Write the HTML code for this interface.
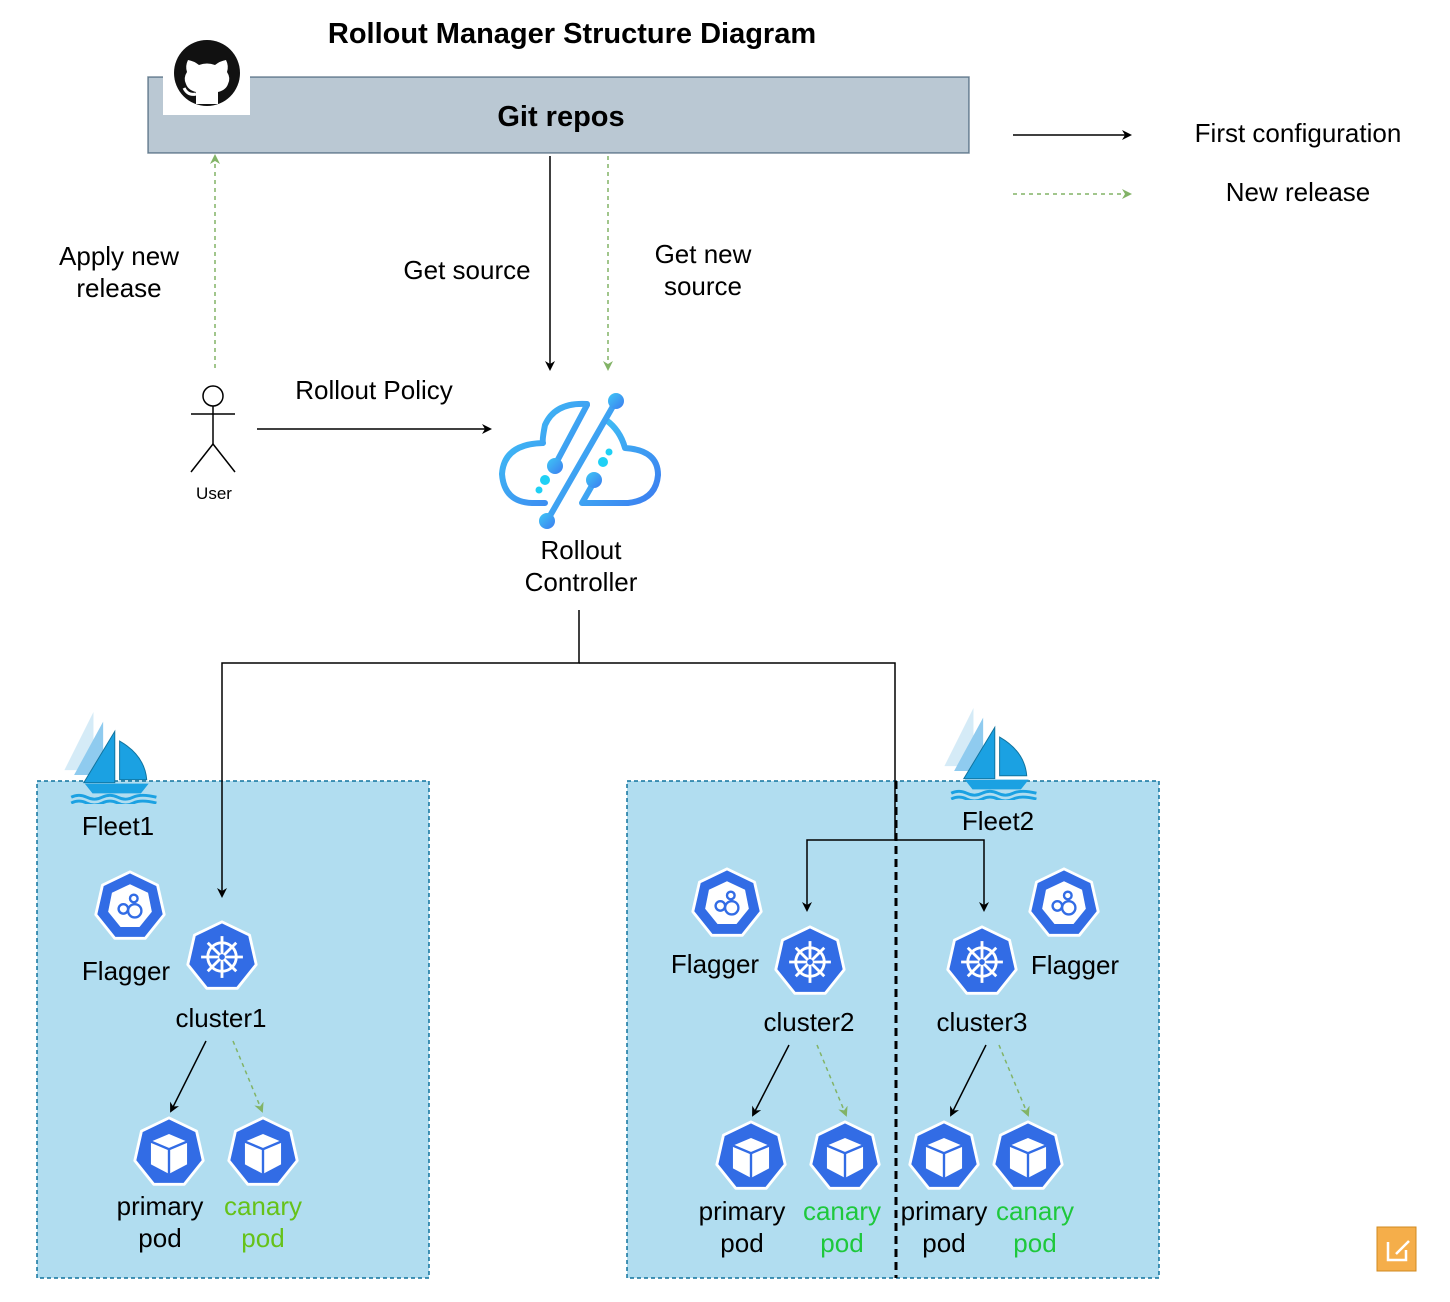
<!DOCTYPE html>
<html><head><meta charset="utf-8"><style>
html,body{margin:0;padding:0;background:#fff}
svg{display:block}
text{font-family:"Liberation Sans",sans-serif;fill:#000}
</style></head><body>
<svg width="1450" height="1302" viewBox="0 0 1450 1302" xmlns="http://www.w3.org/2000/svg">
<defs>
<marker id="ab" markerWidth="10" markerHeight="10" refX="8" refY="5" orient="auto" markerUnits="userSpaceOnUse"><path d="M0,0 L10,5 L0,10 L3,5z" fill="#000"/></marker>
<marker id="ag" markerWidth="10" markerHeight="10" refX="8" refY="5" orient="auto" markerUnits="userSpaceOnUse"><path d="M0,0 L10,5 L0,10 L3,5z" fill="#82b366"/></marker>
<symbol id="hep" viewBox="-40 -40 80 80"><polygon points="0,-37 29,-23 36,8 16,33 -16,33 -36,8 -29,-23" fill="#326ce5" stroke="#fff" stroke-width="3" stroke-linejoin="round"/></symbol>
<symbol id="helm" viewBox="-40 -40 80 80"><use href="#hep" x="-40" y="-40" width="80" height="80"/><g stroke="#fff" stroke-width="3" fill="none"><circle r="15"/><line x1="0" y1="-22" x2="0" y2="22"/><line x1="-22" y1="0" x2="22" y2="0"/><line x1="-15" y1="-15" x2="15" y2="15"/><line x1="15" y1="-15" x2="-15" y2="15"/></g><circle r="3" fill="#326ce5"/></symbol>
<symbol id="flag" viewBox="-40 -40 80 80"><use href="#hep" x="-40" y="-40" width="80" height="80"/><polygon points="0,-24 19,-15 23,5 10,21 -10,21 -23,5 -19,-15" fill="#fff"/><g fill="none" stroke="#326ce5" stroke-width="2.5"><circle cx="-7" cy="2" r="5"/><circle cx="5" cy="4" r="7"/><circle cx="4" cy="-9" r="4"/></g></symbol>
<symbol id="pod" viewBox="-40 -40 80 80"><use href="#hep" x="-40" y="-40" width="80" height="80"/><polygon points="0,-20 19,-12 19,12 0,22 -19,12 -19,-12" fill="#fff"/><polyline points="-19,-12 0,-4 19,-12" fill="none" stroke="#326ce5" stroke-width="2.5"/><line x1="0" y1="-4" x2="0" y2="22" stroke="#326ce5" stroke-width="2.5"/></symbol>
<symbol id="ship" viewBox="0 0 100 95"><polygon points="35,0 35,60 5,60" fill="#d5ebf7"/><polygon points="45,10 45,65 15,65" fill="#8fcbef"/><polygon points="57,20 57,73 25,73" fill="#1ba1e2" stroke="#10739e"/><path d="M62,30 Q88,45 90,70 L62,70z" fill="#1ba1e2" stroke="#10739e"/><path d="M26,74 L92,74 L84,84 L34,84z" fill="#1ba1e2"/><path d="M12,88 Q20,84 28,88 T44,88 T60,88 T76,88 T100,88" stroke="#1ba1e2" stroke-width="3" fill="none"/><path d="M12,94 Q20,90 28,94 T44,94 T60,94 T76,94 T100,94" stroke="#1ba1e2" stroke-width="3" fill="none"/></symbol>
<linearGradient id="cg" x1="0" y1="0" x2="1" y2="1"><stop offset="0" stop-color="#3fc8f5"/><stop offset="1" stop-color="#3c7cf0"/></linearGradient>
</defs>

<text x="572" y="43" font-size="29" font-weight="bold" text-anchor="middle">Rollout Manager Structure Diagram</text>
<rect x="148" y="77" width="821" height="76" fill="#bac8d3" stroke="#23445d" stroke-opacity="0.6" stroke-width="1.5"/>
<text x="561" y="126" font-size="29" font-weight="bold" text-anchor="middle">Git repos</text>
<rect x="163" y="38" width="87" height="77" fill="#fff"/>
<circle cx="207" cy="73" r="33" fill="#111"/>
<path d="M196,104 L196,92 Q188,90 186,84 Q183,78 187,72 Q185,66 188,60 Q194,61 199,65 Q207,62 215,65 Q220,61 226,60 Q229,66 227,72 Q231,78 228,84 Q226,90 218,92 L218,104z" fill="#fff"/>
<path d="M196,94 Q188,96 184,88" stroke="#fff" stroke-width="3" fill="none"/>

<line x1="1013" y1="135" x2="1130" y2="135" stroke="#000" stroke-width="1.5" marker-end="url(#ab)"/>
<line x1="1013" y1="194" x2="1130" y2="194" stroke="#82b366" stroke-width="1.5" stroke-dasharray="4,4" marker-end="url(#ag)"/>
<text x="1298" y="142" font-size="26" text-anchor="middle">First configuration</text>
<text x="1298" y="201" font-size="26" text-anchor="middle">New release</text>

<line x1="215" y1="368" x2="215" y2="156" stroke="#82b366" stroke-width="1.5" stroke-dasharray="4,4" marker-end="url(#ag)"/>
<text x="119" y="265" font-size="26" text-anchor="middle">Apply new</text>
<text x="119" y="297" font-size="26" text-anchor="middle">release</text>
<line x1="550" y1="156" x2="550" y2="369" stroke="#000" stroke-width="1.5" marker-end="url(#ab)"/>
<text x="467" y="279" font-size="26" text-anchor="middle">Get source</text>
<line x1="608" y1="156" x2="608" y2="369" stroke="#82b366" stroke-width="1.5" stroke-dasharray="4,4" marker-end="url(#ag)"/>
<text x="703" y="263" font-size="26" text-anchor="middle">Get new</text>
<text x="703" y="295" font-size="26" text-anchor="middle">source</text>

<g stroke="#000" stroke-width="1.5" fill="#fff"><circle cx="213" cy="396" r="10"/><line x1="213" y1="406" x2="213" y2="444"/><line x1="191" y1="414" x2="235" y2="414"/><polyline points="191,472 213,444 235,472" fill="none"/></g>
<text x="214" y="499" font-size="17" text-anchor="middle">User</text>
<line x1="257" y1="429" x2="490" y2="429" stroke="#000" stroke-width="1.5" marker-end="url(#ab)"/>
<text x="374" y="399" font-size="26" text-anchor="middle">Rollout Policy</text>

<g fill="none" stroke="url(#cg)" stroke-width="6" stroke-linecap="round" stroke-linejoin="round">
<path d="M587,404 Q555,402 545,425 Q542,440 543,443 Q504,444 502,474 Q504,502 532,503 L545,503"/>
<path d="M606,420 Q620,430 625,448 Q658,450 658,475 Q656,500 628,503 L582,503 L594,482"/>
<line x1="616" y1="401" x2="547" y2="521"/>
<line x1="587" y1="405" x2="555" y2="465"/>
</g>
<g fill="url(#cg)"><circle cx="616" cy="401" r="8"/><circle cx="547" cy="521" r="8"/><circle cx="555" cy="466" r="8"/><circle cx="594" cy="480" r="8"/></g>
<g fill="#1fd0f5"><circle cx="545" cy="480" r="5"/><circle cx="539" cy="490" r="3.5"/><circle cx="603" cy="462" r="5"/><circle cx="609" cy="452" r="3.5"/></g>
<text x="581" y="559" font-size="26" text-anchor="middle">Rollout</text>
<text x="581" y="591" font-size="26" text-anchor="middle">Controller</text>

<rect x="37" y="781" width="392" height="497" fill="#b1ddf0" stroke="#10739e" stroke-width="1.5" stroke-dasharray="4,3"/>
<rect x="627" y="781" width="532" height="497" fill="#b1ddf0" stroke="#10739e" stroke-width="1.5" stroke-dasharray="4,3"/>
<line x1="896" y1="781" x2="896" y2="1278" stroke="#000" stroke-width="3" stroke-dasharray="8,5"/>

<g stroke="#000" stroke-width="1.5" fill="none">
<polyline points="579,610 579,663 222,663 222,896" marker-end="url(#ab)"/>
<polyline points="579,663 895,663 895,840"/>
<polyline points="895,840 807,840 807,910" marker-end="url(#ab)"/>
<polyline points="895,840 984,840 984,910" marker-end="url(#ab)"/>
<line x1="206" y1="1041" x2="171" y2="1111" marker-end="url(#ab)"/>
<line x1="789" y1="1045" x2="753" y2="1115" marker-end="url(#ab)"/>
<line x1="986" y1="1045" x2="951" y2="1115" marker-end="url(#ab)"/>
</g>
<g stroke="#82b366" stroke-width="1.5" stroke-dasharray="4,4">
<line x1="233" y1="1041" x2="262" y2="1111" marker-end="url(#ag)"/>
<line x1="817" y1="1045" x2="846" y2="1115" marker-end="url(#ag)"/>
<line x1="999" y1="1045" x2="1028" y2="1115" marker-end="url(#ag)"/>
</g>

<use href="#ship" x="58" y="712" width="100" height="92"/>
<use href="#ship" x="938" y="708" width="100" height="92"/>
<text x="118" y="835" font-size="26" text-anchor="middle">Fleet1</text>
<text x="998" y="830" font-size="26" text-anchor="middle">Fleet2</text>

<use href="#flag" x="92" y="869" width="76" height="76"/>
<use href="#flag" x="689" y="866" width="76" height="76"/>
<use href="#flag" x="1026" y="866" width="76" height="76"/>
<use href="#helm" x="184" y="919" width="76" height="76"/>
<use href="#helm" x="772" y="924" width="76" height="76"/>
<use href="#helm" x="944" y="924" width="76" height="76"/>
<text x="126" y="980" font-size="26" text-anchor="middle">Flagger</text>
<text x="221" y="1027" font-size="26" text-anchor="middle">cluster1</text>
<text x="715" y="973" font-size="26" text-anchor="middle">Flagger</text>
<text x="809" y="1031" font-size="26" text-anchor="middle">cluster2</text>
<text x="982" y="1031" font-size="26" text-anchor="middle">cluster3</text>
<text x="1075" y="974" font-size="26" text-anchor="middle">Flagger</text>

<use href="#pod" x="131" y="1115" width="76" height="76"/>
<use href="#pod" x="225" y="1115" width="76" height="76"/>
<use href="#pod" x="713" y="1119" width="76" height="76"/>
<use href="#pod" x="807" y="1119" width="76" height="76"/>
<use href="#pod" x="906" y="1119" width="76" height="76"/>
<use href="#pod" x="990" y="1119" width="76" height="76"/>
<g font-size="26" text-anchor="middle">
<text x="160" y="1215">primary</text><text x="160" y="1247">pod</text>
<text x="263" y="1215" style="fill:#66c21a">canary</text><text x="263" y="1247" style="fill:#66c21a">pod</text>
<text x="742" y="1220">primary</text><text x="742" y="1252">pod</text>
<text x="842" y="1220" style="fill:#1ec83c">canary</text><text x="842" y="1252" style="fill:#1ec83c">pod</text>
<text x="944" y="1220">primary</text><text x="944" y="1252">pod</text>
<text x="1035" y="1220" style="fill:#1ec83c">canary</text><text x="1035" y="1252" style="fill:#1ec83c">pod</text>
</g>

<rect x="1377" y="1227" width="39" height="44" fill="#f5ae4a" stroke="#d08a20"/>
<path d="M1388,1242 L1388,1260 L1406,1260 L1406,1250 M1396,1254 L1409,1241" stroke="#fff" stroke-width="2.5" fill="none"/>
</svg>
</body></html>
